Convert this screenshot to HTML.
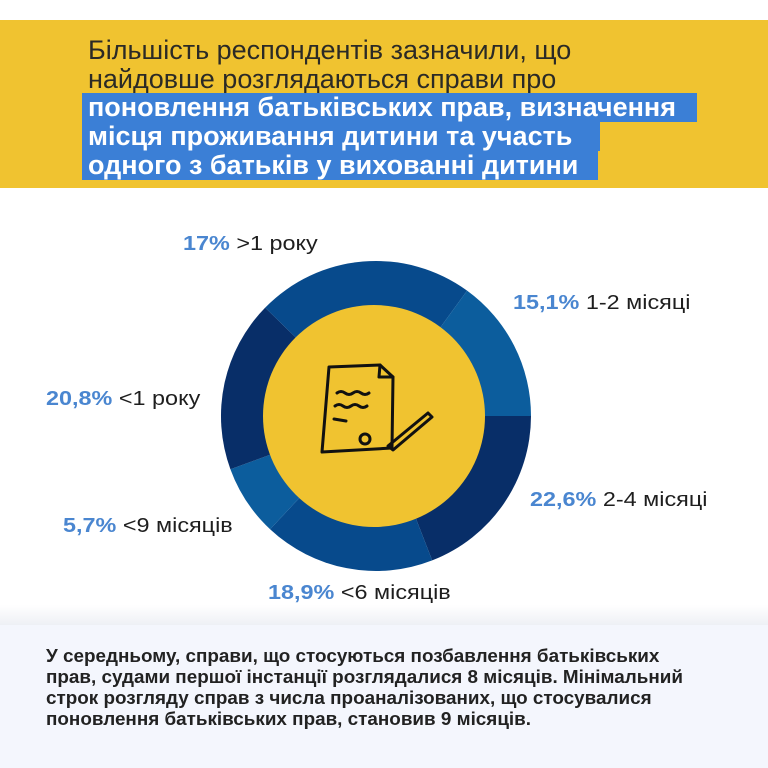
<!DOCTYPE html>
<html><head><meta charset="utf-8"><style>
body{margin:0;width:768px;height:768px;background:#fff;overflow:hidden;position:relative;font-family:"Liberation Sans",sans-serif}
.ban{position:absolute;left:0;top:20px;width:768px;height:168px;background:#f0c330}
.t{position:absolute;left:88px;font-family:"Liberation Sans",sans-serif;font-size:27px;color:#2b2a26;white-space:nowrap;line-height:29px}
.hl{position:absolute;left:82px;background:#3b7fd6;height:29px}
.hb{color:#fff;font-weight:bold}
.lab{position:absolute;font-size:20px;color:#1e1e1e;white-space:nowrap;line-height:20px;transform:scaleX(1.17);transform-origin:0 0}
.lab b{color:#4a86d0;font-weight:bold}
.bot{position:absolute;left:0;top:625px;width:768px;height:143px;background:#f4f6fd}
.bt{position:absolute;left:46px;top:645px;font-family:"Liberation Sans",sans-serif;font-size:18.5px;font-weight:bold;color:#222;line-height:21px;white-space:nowrap;transform:scaleX(1.02);transform-origin:0 0}
</style></head><body>
<div class="ban"></div>
<div class="t" style="top:36px">Більшість респондентів зазначили, що</div>
<div class="t" style="top:65px">найдовше розглядаються справи про</div>
<div class="hl" style="top:93px;width:615px"></div>
<div class="hl" style="top:122px;width:518px"></div>
<div class="hl" style="top:151px;width:516px"></div>
<div class="t hb" style="top:93px">поновлення батьківських прав, визначення</div>
<div class="t hb" style="top:122px">місця проживання дитини та участь</div>
<div class="t hb" style="top:151px">одного з батьків у вихованні дитини</div>
<div style="position:absolute;left:0;top:605px;width:768px;height:20px;background:linear-gradient(#fff,#eef0f5)"></div>
<svg style="position:absolute;left:0;top:0" width="768" height="768" viewBox="0 0 768 768">
<g transform="translate(376,416)">
<path d="M155,0 A155,155 0 0 1 56.2,144.4 L0,0Z" fill="#082e68"/>
<path d="M56.2,144.4 A155,155 0 0 1 -105.9,113.2 L0,0Z" fill="#074a8c"/>
<path d="M-105.9,113.2 A155,155 0 0 1 -145.6,53.2 L0,0Z" fill="#0c5d9d"/>
<path d="M-145.6,53.2 A155,155 0 0 1 -110.8,-108.4 L0,0Z" fill="#082e68"/>
<path d="M-110.8,-108.4 A155,155 0 0 1 91.1,-125.4 L0,0Z" fill="#074a8c"/>
<path d="M91.1,-125.4 A155,155 0 0 1 155,0 L0,0Z" fill="#0c5d9d"/>
<circle cx="-2" cy="0" r="111" fill="#f0c330"/>
</g>
<g fill="none" stroke="#111" stroke-width="3" stroke-linecap="round" stroke-linejoin="round">
<path d="M329,367 L380,365 L393,377 L392,448 L322,452 Z"/>
<path d="M380,365 L379,377 L393,377"/>
<path d="M337,393 q4,-3 8,0 q4,3 8,0 q4,-3 8,0 q4,3 8,0"/>
<path d="M335,406 q4,-3 8,0 q4,3 8,0 q4,-3 8,0 q4,3 8,0"/>
<path d="M334,419 L346,421"/>
<circle cx="365" cy="439" r="5"/>
<path d="M388,446 L428,413 L432,417 L393,450 Z"/>
</g>
</svg>
<div class="lab" style="left:183px;top:234px"><b>17%</b> &gt;1 року</div>
<div class="lab" style="left:513px;top:293px"><b>15,1%</b> 1-2 місяці</div>
<div class="lab" style="left:46px;top:389px"><b>20,8%</b> &lt;1 року</div>
<div class="lab" style="left:530px;top:490px"><b>22,6%</b> 2-4 місяці</div>
<div class="lab" style="left:63px;top:516px"><b>5,7%</b> &lt;9 місяців</div>
<div class="lab" style="left:268px;top:583px"><b>18,9%</b> &lt;6 місяців</div>
<div class="bot"></div>
<div class="bt">У середньому, справи, що стосуються позбавлення батьківських<br>прав, судами першої інстанції розглядалися 8 місяців. Мінімальний<br>строк розгляду справ з числа проаналізованих, що стосувалися<br>поновлення батьківських прав, становив 9 місяців.</div>
</body></html>
